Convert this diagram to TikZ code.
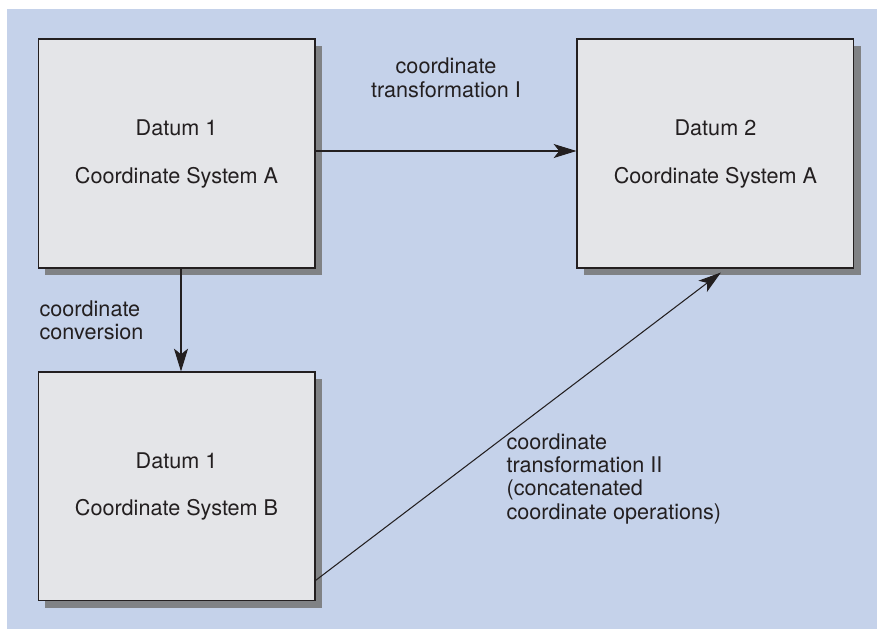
\documentclass[tikz,border=0pt]{standalone}
\usepackage{fontspec}
\setmainfont{TeX Gyre Heros}
\usetikzlibrary{positioning,shadows,arrows.meta}
\definecolor{bgblue}{HTML}{C5D2EA}
\definecolor{boxgray}{HTML}{E4E5E8}
\definecolor{shadowgray}{HTML}{808285}
\definecolor{inkdark}{HTML}{231F20}

\begin{document}
\begin{tikzpicture}[x=0.02cm,y=-0.02cm,>={Stealth[length=13pt,width=8pt,inset=3.2pt]},semithick,
        font=\fontsize{12.3}{13.3}\selectfont,text=inkdark]
    \tikzstyle{datum}=[draw=inkdark,fill=boxgray,minimum width=5.54cm,minimum height=4.58cm,align=center,
        drop shadow={shadow xshift=0.14cm,shadow yshift=-0.14cm,fill=shadowgray,opacity=1}]
    \tikzstyle{op}=[inner sep=0pt]
    \tikzstyle{flow}=[->,draw=inkdark,line width=0.6pt]

    \useasboundingbox (0,0) rectangle (877,629);
    \fill[bgblue] (7,9) rectangle (877,629);

    \node[datum] (D1A) at (176.5,153.5)  {Datum 1\\[14pt]Coordinate System A};
    \node[datum] (D2A) [right=5.22cm of D1A] {Datum 2\\[14pt]Coordinate System A};
    \node[datum] (D1B) [below=2.06cm of D1A] {Datum 1\\[14pt]Coordinate System B};

    \draw[flow] ([yshift=0.05cm]D1A.east) -- node[op,midway,above=1.06cm,align=center] {coordinate\\transformation I} ([yshift=0.05cm]D2A.west);
    \draw[flow] ([xshift=0.09cm]D1A.south) -- node[op,midway,left=0.74cm,align=left] {coordinate\\conversion} ([xshift=0.09cm]D1B.north);
    \draw[flow] ([yshift=0.42cm]D1B.south east)
        -- node[op,pos=0.47,anchor=north west,yshift=0.06cm,align=left]
           {coordinate\\transformation II\\(concatenated\\coordinate operations)}
        ([xshift=0.11cm,yshift=-0.08cm]D2A.south);
\end{tikzpicture}
\end{document}
